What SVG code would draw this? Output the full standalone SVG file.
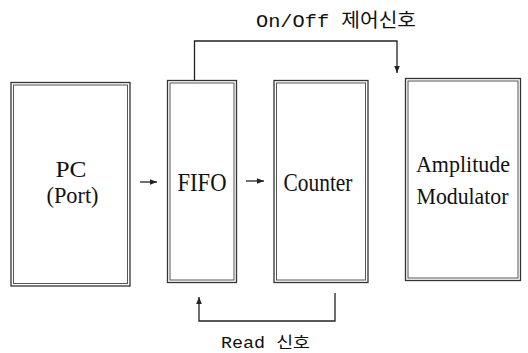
<svg xmlns="http://www.w3.org/2000/svg" width="528" height="353" viewBox="0 0 528 353">
<style>
.box{fill:none;stroke:#333;stroke-width:1.3}
.inner{fill:none;stroke:#555;stroke-width:1}
.lbl{font-family:"Liberation Serif","Times New Roman",serif;font-size:26px;fill:#111;text-anchor:middle}
.sm{font-size:24px}
.mono{font-family:"Liberation Mono","Noto Sans CJK KR",monospace;fill:#111}
.wire{fill:none;stroke:#222;stroke-width:1.3}
</style>
<defs>
<marker id="ah" viewBox="0 0 10 10" refX="10" refY="5" markerWidth="7" markerHeight="7" orient="auto" markerUnits="userSpaceOnUse">
<path d="M0,1 L10,5 L0,9 Z" fill="#222"/>
</marker>
</defs>
<rect width="528" height="353" fill="#fff"/>
<g id="pc">
<rect class="box" x="11" y="82.5" width="119" height="203.5"/>
<rect class="inner" x="13.5" y="85" width="114" height="198.5"/>
<text class="lbl sm" x="71" y="177" textLength="31" lengthAdjust="spacingAndGlyphs">PC</text>
<text class="lbl sm" x="72.5" y="203" textLength="52" lengthAdjust="spacingAndGlyphs">(Port)</text>
</g>
<g id="fifo">
<rect class="box" x="167.5" y="80.5" width="69" height="202"/>
<rect class="inner" x="170" y="83" width="64" height="197"/>
<text class="lbl" x="202" y="191" textLength="49" lengthAdjust="spacingAndGlyphs">FIFO</text>
</g>
<g id="counter">
<rect class="box" x="274" y="80.5" width="94" height="202"/>
<rect class="inner" x="276.5" y="83" width="89" height="197"/>
<text class="lbl" x="318" y="191" textLength="69" lengthAdjust="spacingAndGlyphs">Counter</text>
</g>
<g id="modulator">
<rect class="box" x="405.5" y="78.5" width="115" height="202"/>
<rect class="inner" x="408" y="81" width="110" height="197"/>
<text class="lbl sm" x="463" y="172" textLength="94" lengthAdjust="spacingAndGlyphs">Amplitude</text>
<text class="lbl sm" x="462.5" y="204" textLength="92" lengthAdjust="spacingAndGlyphs">Modulator</text>
</g>
<g id="connectors">
<line class="wire" x1="140" y1="182" x2="157" y2="182" marker-end="url(#ah)"/>
<line class="wire" x1="246" y1="181" x2="264" y2="181" marker-end="url(#ah)"/>
<polyline class="wire" points="194.5,80.5 194.5,41 397,41 397,73" marker-end="url(#ah)"/>
<polyline class="wire" points="335,293 335,321 199,321 199,297" marker-end="url(#ah)"/>
</g>
<text class="mono" x="256" y="27" font-size="19" textLength="160" lengthAdjust="spacingAndGlyphs">On/Off 제어신호</text>
<text class="mono" x="221" y="348" font-size="16" textLength="89" lengthAdjust="spacingAndGlyphs">Read 신호</text>
</svg>
